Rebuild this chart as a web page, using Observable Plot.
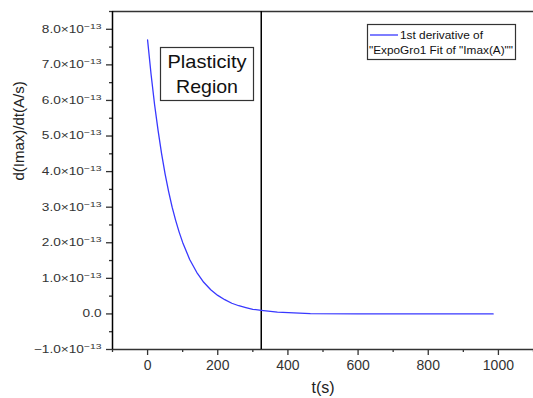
<!DOCTYPE html>
<html><head><meta charset="utf-8">
<script src="https://cdn.jsdelivr.net/npm/d3@7"></script>
<script src="https://cdn.jsdelivr.net/npm/@observablehq/plot@0.6"></script>
<style>
html,body{margin:0;padding:0;background:#fff;}
#chart{position:relative;width:533px;height:398px;overflow:hidden;}
svg{font-family:"Liberation Sans",Arial,sans-serif;}
</style></head><body>
<div id="chart"></div>
<script>
// data (seconds, A/s)
const t = [0,10,20,30,40,50,60,70,80,90,100,120,140,160,180,200,220,240,260,280,300,324,370,464,600,800,985];
const dIdt = [7.70,6.73,5.88,5.15,4.50,3.93,3.44,3.00,2.63,2.30,2.01,1.53,1.17,0.89,0.68,0.52,0.40,0.30,0.23,0.18,0.13,0.10,0.05,0.01,0.003,0.0,0.0].map(v => v*1e-13);
const xMajor = [0,200,400,600,800,1000];
const xMinor = [-100,100,300,500,700,900,1100];
const yMajor = [-1,0,1,2,3,4,5,6,7,8].map(k => k*1e-13);
const yMinor = [-0.5,0.5,1.5,2.5,3.5,4.5,5.5,6.5,7.5,8.5].map(k => k*1e-13);
const xDomain = [-100,1100];
const yDomain = [-1e-13,8.5e-13];
const boundaryT = [324];
const seriesName = ["1st derivative of", "\"ExpoGro1 Fit of \"Imax(A)\"\""];
const regionLabel = ["Plasticity", "Region"];

const data = t.map((x,i) => ({t:x, v:dIdt[i]}));
const axisColor = "#333";

function yFmt(d){
  const k = Math.round(d/1e-13*10)/10;
  if (k === 0) return "0.0";
  return (k<0?"\u2212":"") + Math.abs(k).toFixed(1) + "×10^-13";
}

const plot = Plot.plot({
  width:533, height:398,
  marginLeft:112, marginRight:0, marginTop:11, marginBottom:49,
  style:{fontFamily:'"Liberation Sans",Arial,sans-serif', fontSize:"10px", color:axisColor, overflow:"visible"},
  x:{domain:xDomain},
  y:{domain:yDomain},
  marks:[
    Plot.axisX({ticks:xMinor, tickSize:3, tickFormat:()=>"", label:null, stroke:axisColor, strokeWidth:1.3}),
    Plot.axisX({ticks:xMajor, tickSize:6, tickPadding:5, label:null, fontSize:14, fill:"#333", stroke:axisColor, strokeWidth:1.3, tickFormat:d=>String(d)}),
    Plot.axisY({ticks:yMinor, tickSize:3, tickFormat:()=>"", label:null, stroke:axisColor, strokeWidth:1.3}),
    Plot.axisY({ticks:yMajor, tickSize:6, tickPadding:5, label:null, fontSize:10.5, fill:"#333", stroke:axisColor, strokeWidth:1.3, tickFormat:yFmt}),
    Plot.ruleY([yDomain[1]], {stroke:axisColor, strokeWidth:1.5}),
    Plot.ruleY([yDomain[0]], {stroke:axisColor, strokeWidth:1.5}),
    Plot.ruleX([xDomain[0]], {stroke:"#000", strokeWidth:1.5}),
    Plot.ruleX(boundaryT, {stroke:"#000", strokeWidth:1.5}),
    Plot.line(data, {x:"t", y:"v", stroke:"#3838ff", strokeWidth:1.3}),
    Plot.text(["t(s)"], {frameAnchor:"bottom", dy:43, fontSize:16, fill:"#222"}),
    Plot.text(["d(Imax)/dt(A/s)"], {frameAnchor:"left", dx:-93, dy:0, rotate:-90, fontSize:15, fill:"#222", textLength:114})
  ]
});
document.getElementById("chart").appendChild(plot);

// superscript exponents + horizontal stretch of y tick labels
d3.select(plot).selectAll("text").each(function(){
  const s = this.textContent;
  if (s.includes("^") || s === "0.0") {
    const sel = d3.select(this);
    if (s.includes("^")) {
      const [base, exp] = s.split("^");
      sel.text(null);
      sel.append("tspan").text(base);
      sel.append("tspan").attr("dy","-0.5em").attr("font-size","8px").text(exp.replace("-","\u2212"));
    }
    const tr = sel.attr("transform") || "";
    sel.attr("transform", tr + " scale(1.3,1)");
  }
});

const svg = d3.select(plot);
// Plasticity region box
const g = svg.append("g").attr("font-family",'"Liberation Sans",Arial,sans-serif');
g.append("rect").attr("x",160.5).attr("y",47.5).attr("width",93).attr("height",53)
  .attr("fill","#fff").attr("stroke","#333").attr("stroke-width",1.2);
const regionLen = [79, 62];
regionLabel.forEach((s,i)=>{
  g.append("text").attr("x",207 - regionLen[i]/2).attr("y",67.5+i*25.5).attr("text-anchor","start")
   .attr("font-size","18.5px").attr("fill","#111")
   .attr("textLength",regionLen[i]).attr("lengthAdjust","spacingAndGlyphs").text(s);
});
// legend box
const lg = svg.append("g").attr("font-family",'"Liberation Sans",Arial,sans-serif').attr("text-anchor","start");
lg.append("rect").attr("x",367.5).attr("y",24.5).attr("width",148).attr("height",35)
  .attr("fill","#fff").attr("stroke","#333").attr("stroke-width",1.2);
lg.append("line").attr("x1",370).attr("x2",398).attr("y1",35).attr("y2",35).attr("stroke","#3838ff").attr("stroke-width",1.3);
lg.append("text").attr("x",400).attr("y",38.5).attr("font-size","10px").attr("fill","#111").attr("textLength",83).attr("lengthAdjust","spacingAndGlyphs").text(seriesName[0]);
lg.append("text").attr("x",369).attr("y",53.5).attr("font-size","10px").attr("fill","#111").attr("textLength",144).attr("lengthAdjust","spacingAndGlyphs").text(seriesName[1]);
</script>
</body></html>
